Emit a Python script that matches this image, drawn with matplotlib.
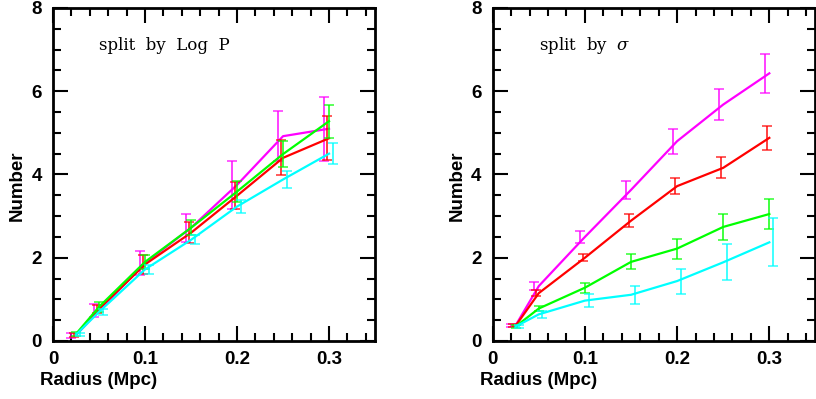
import numpy as np
import matplotlib
matplotlib.use('Agg')
import matplotlib.pyplot as plt
from matplotlib.ticker import MultipleLocator, FixedLocator

# radius bins (Mpc)
radius = np.array([0.025, 0.05, 0.1, 0.15, 0.2, 0.25, 0.3])

# left panel: split by Log P
logp_magenta = [0.14, 0.73, 1.87, 2.72, 3.75, 4.92, 5.10]
logp_magenta_err = [0.06, 0.16, 0.29, 0.34, 0.57, 0.60, 0.77]
logp_red = [0.15, 0.77, 1.84, 2.60, 3.49, 4.40, 4.87]
logp_red_err = [0.05, 0.10, 0.23, 0.25, 0.33, 0.42, 0.53]
logp_green = [0.17, 0.82, 1.90, 2.72, 3.59, 4.49, 5.28]
logp_green_err = [0.04, 0.12, 0.16, 0.18, 0.25, 0.31, 0.40]
logp_cyan = [0.15, 0.70, 1.72, 2.43, 3.23, 3.88, 4.50]
logp_cyan_err = [0.04, 0.08, 0.10, 0.11, 0.16, 0.21, 0.25]

# right panel: split by sigma
sig_magenta = [0.38, 1.32, 2.50, 3.63, 4.80, 5.68, 6.43]
sig_magenta_err = [0.04, 0.10, 0.15, 0.21, 0.30, 0.37, 0.47]
sig_red = [0.37, 1.15, 2.00, 2.89, 3.72, 4.16, 4.88]
sig_red_err = [0.03, 0.07, 0.09, 0.15, 0.20, 0.25, 0.29]
sig_green = [0.35, 0.78, 1.28, 1.90, 2.22, 2.74, 3.05]
sig_green_err = [0.03, 0.06, 0.12, 0.18, 0.24, 0.31, 0.35]
sig_cyan = [0.35, 0.64, 0.97, 1.11, 1.44, 1.89, 2.37]
sig_cyan_err = [0.03, 0.09, 0.15, 0.22, 0.30, 0.43, 0.58]

colors = ['#ff00ff', '#ff0000', '#00ff00', '#00ffff']
offsets = [-0.005, -0.0025, 0.0, 0.004]

plt.rcParams['font.family'] = ['Liberation Sans', 'DejaVu Sans']
plt.rcParams['font.size'] = 13.5
plt.rcParams['axes.labelweight'] = 'bold'
plt.rcParams['mathtext.fontset'] = 'dejavuserif'

fig = plt.figure(figsize=(8.16, 3.99), dpi=100)
ax1 = fig.add_axes([0.065, 0.1454, 0.3946, 0.8346])
ax2 = fig.add_axes([0.6038, 0.1454, 0.3955, 0.8346])

panels = [
    (ax1, 'split  by  Log  P',
     [logp_magenta, logp_red, logp_green, logp_cyan],
     [logp_magenta_err, logp_red_err, logp_green_err, logp_cyan_err]),
    (ax2, r'split  by  $\sigma$',
     [sig_magenta, sig_red, sig_green, sig_cyan],
     [sig_magenta_err, sig_red_err, sig_green_err, sig_cyan_err]),
]

for ax, title, ys, errs in panels:
    for y, e, c, off in zip(ys, errs, colors, offsets):
        ax.plot(radius, y, color=c, lw=1.6)
        ax.errorbar(radius + off, y, yerr=e, fmt='none', ecolor=c,
                    elinewidth=1.4, capsize=3.5, capthick=1.2, alpha=0.75)
    ax.set_xlim(0, 0.35)
    ax.set_ylim(0, 8)
    ax.xaxis.set_major_locator(FixedLocator([0, 0.1, 0.2, 0.3]))
    ax.set_xticklabels(['0', '0.1', '0.2', '0.3'], fontweight='bold')
    ax.xaxis.set_minor_locator(MultipleLocator(0.02))
    ax.set_yticks([0, 2, 4, 6, 8])
    ax.set_yticklabels(['0', '2', '4', '6', '8'], fontweight='bold')
    ax.yaxis.set_minor_locator(MultipleLocator(0.5))
    ax.tick_params(which='both', direction='in', top=True, right=True, width=1.5)
    ax.tick_params(which='major', length=11)
    ax.tick_params(which='minor', length=6)
    ax.tick_params(axis='x', which='major', pad=7)
    ax.tick_params(axis='y', which='major', pad=8)
    for s in ax.spines.values():
        s.set_linewidth(2)
    ax.text(0.05, 7.0, title, fontfamily='DejaVu Serif', fontweight='normal',
            fontsize=12, ha='left', va='baseline')
    ax.set_xlabel('Radius (Mpc)', loc='left')
    ax.xaxis.set_label_coords(-0.04, -0.093)
    ax.set_ylabel('Number')
    ax.yaxis.set_label_coords(-0.085, 0.465)

fig.savefig('out.png', dpi=100)
